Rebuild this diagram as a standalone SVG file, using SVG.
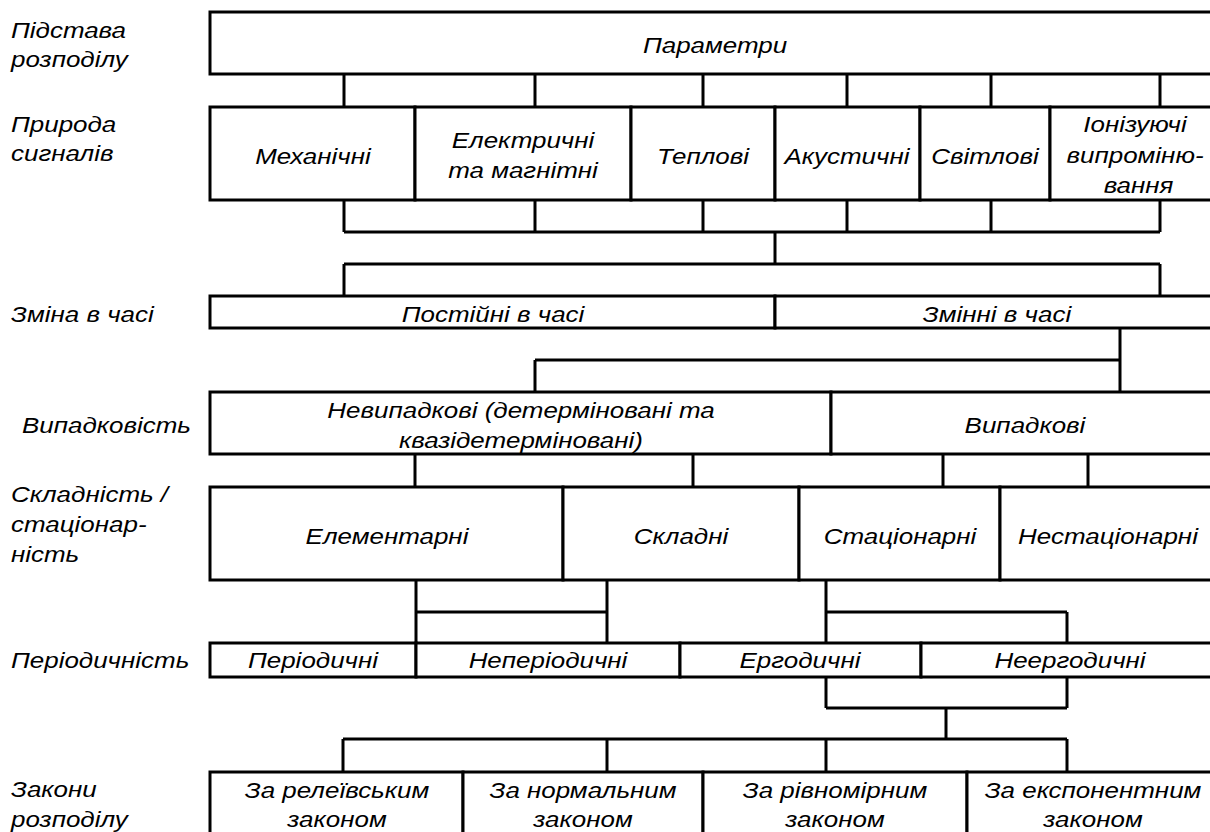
<svg xmlns="http://www.w3.org/2000/svg" width="1210" height="832" viewBox="0 0 1210 832">
<style>
  .box{fill:#fff;stroke:#000;stroke-width:3}
  .ln{fill:none;stroke:#000;stroke-width:3}
  text{font-family:"Liberation Sans",Arial,sans-serif;font-style:italic;font-size:22px;fill:#000}
  .c{text-anchor:middle}
</style>
<rect width="1210" height="832" fill="#fff"/>

<!-- level captions on the left -->
<g id="captions">
  <text transform="matrix(1.18 0 0 1 11 38)"><tspan x="0" y="0">Підстава</tspan><tspan x="0" y="29">розподілу</tspan></text>
  <text transform="matrix(1.18 0 0 1 11 132)"><tspan x="0" y="0">Природа</tspan><tspan x="0" y="29">сигналів</tspan></text>
  <text transform="matrix(1.18 0 0 1 11 322)">Зміна в часі</text>
  <text transform="matrix(1.18 0 0 1 22 433)">Випадковість</text>
  <text transform="matrix(1.18 0 0 1 11 502)"><tspan x="0" y="0">Складність /</tspan><tspan x="0" y="30">стаціонар-</tspan><tspan x="0" y="60">ність</tspan></text>
  <text transform="matrix(1.18 0 0 1 11 668)">Періодичність</text>
  <text transform="matrix(1.18 0 0 1 11 797)"><tspan x="0" y="0">Закони</tspan><tspan x="0" y="30">розподілу</tspan></text>
</g>

<!-- connectors between levels -->
<g id="connectors" class="ln">
  <path d="M344 74V107M535 74V107M703 74V107M847 74V107M991 74V107M1160 74V107"/>
  <path d="M344 200V232M535 200V232M703 200V232M847 200V232M991 200V232M1160 200V232M344 232H1160"/>
  <path d="M775 232V264M344 264H1160M344 264V296M1160 264V296"/>
  <path d="M1120 328V392M535 360H1120M535 360V392"/>
  <path d="M415 454V487M693 454V487M943 454V487M1088 454V487"/>
  <path d="M416 580V643M607 580V643M416 612H607"/>
  <path d="M826 580V643M826 612H1067M1067 612V643"/>
  <path d="M826 677V708M1067 677V708M826 708H1067M946 708V739"/>
  <path d="M343 739H1067M343 739V772M607 739V772M826 739V772M1067 739V772"/>
</g>

<!-- level 1 -->
<g id="n-params"><rect class="box" x="210" y="12" width="1015" height="62"/>
  <text class="c" transform="matrix(1.18 0 0 1 715 53)">Параметри</text></g>

<!-- level 2: nature of signals -->
<g id="n-mech"><rect class="box" x="210" y="107" width="205" height="93"/>
  <text class="c" transform="matrix(1.18 0 0 1 313 164)">Механічні</text></g>
<g id="n-elec"><rect class="box" x="415" y="107" width="216" height="93"/>
  <text class="c" transform="matrix(1.18 0 0 1 523 148)"><tspan x="0" y="0">Електричні</tspan><tspan x="0" y="30">та магнітні</tspan></text></g>
<g id="n-therm"><rect class="box" x="631" y="107" width="144" height="93"/>
  <text class="c" transform="matrix(1.18 0 0 1 703 164)">Теплові</text></g>
<g id="n-acoust"><rect class="box" x="775" y="107" width="145" height="93"/>
  <text class="c" transform="matrix(1.18 0 0 1 847 164)">Акустичні</text></g>
<g id="n-light"><rect class="box" x="920" y="107" width="130" height="93"/>
  <text class="c" transform="matrix(1.18 0 0 1 985 164)">Світлові</text></g>
<g id="n-ion"><rect class="box" x="1050" y="107" width="175" height="93"/>
  <text class="c" transform="matrix(1.18 0 0 1 1135 132)"><tspan x="0" y="0">Іонізуючі</tspan><tspan x="0" y="31">випроміню-</tspan><tspan x="3" y="61">вання</tspan></text></g>

<!-- level 3: change in time -->
<g id="n-const"><rect class="box" x="210" y="296" width="565" height="32"/>
  <text class="c" transform="matrix(1.18 0 0 1 493 322)">Постійні в часі</text></g>
<g id="n-var"><rect class="box" x="775" y="296" width="450" height="32"/>
  <text class="c" transform="matrix(1.18 0 0 1 997 322)">Змінні в часі</text></g>

<!-- level 4: randomness -->
<g id="n-determ"><rect class="box" x="210" y="392" width="621" height="62"/>
  <text class="c" transform="matrix(1.18 0 0 1 521 418)"><tspan x="0" y="0">Невипадкові (детерміновані та</tspan><tspan x="0" y="30">квазідетерміновані)</tspan></text></g>
<g id="n-random"><rect class="box" x="831" y="392" width="394" height="62"/>
  <text class="c" transform="matrix(1.18 0 0 1 1025 433)">Випадкові</text></g>

<!-- level 5: complexity / stationarity -->
<g id="n-elem"><rect class="box" x="210" y="487" width="353" height="93"/>
  <text class="c" transform="matrix(1.18 0 0 1 387 544)">Елементарні</text></g>
<g id="n-complex"><rect class="box" x="563" y="487" width="236" height="93"/>
  <text class="c" transform="matrix(1.18 0 0 1 681 544)">Складні</text></g>
<g id="n-stat"><rect class="box" x="799" y="487" width="201" height="93"/>
  <text class="c" transform="matrix(1.18 0 0 1 900 544)">Стаціонарні</text></g>
<g id="n-nonstat"><rect class="box" x="1000" y="487" width="225" height="93"/>
  <text class="c" transform="matrix(1.18 0 0 1 1108 544)">Нестаціонарні</text></g>

<!-- level 6: periodicity -->
<g id="n-period"><rect class="box" x="210" y="643" width="206" height="34"/>
  <text class="c" transform="matrix(1.18 0 0 1 313 668)">Періодичні</text></g>
<g id="n-aperiod"><rect class="box" x="416" y="643" width="264" height="34"/>
  <text class="c" transform="matrix(1.18 0 0 1 548 668)">Неперіодичні</text></g>
<g id="n-ergod"><rect class="box" x="680" y="643" width="241" height="34"/>
  <text class="c" transform="matrix(1.18 0 0 1 800 668)">Ергодичні</text></g>
<g id="n-nonergod"><rect class="box" x="921" y="643" width="304" height="34"/>
  <text class="c" transform="matrix(1.18 0 0 1 1070 668)">Неергодичні</text></g>

<!-- level 7: distribution laws -->
<g id="n-rayleigh"><rect class="box" x="210" y="772" width="253" height="80"/>
  <text class="c" transform="matrix(1.18 0 0 1 337 798)"><tspan x="0" y="0">За релеївським</tspan><tspan x="0" y="29">законом</tspan></text></g>
<g id="n-normal"><rect class="box" x="463" y="772" width="240" height="80"/>
  <text class="c" transform="matrix(1.18 0 0 1 583 798)"><tspan x="0" y="0">За нормальним</tspan><tspan x="0" y="29">законом</tspan></text></g>
<g id="n-uniform"><rect class="box" x="703" y="772" width="264" height="80"/>
  <text class="c" transform="matrix(1.18 0 0 1 835 798)"><tspan x="0" y="0">За рівномірним</tspan><tspan x="0" y="29">законом</tspan></text></g>
<g id="n-expon"><rect class="box" x="967" y="772" width="258" height="80"/>
  <text class="c" transform="matrix(1.18 0 0 1 1093 798)"><tspan x="0" y="0">За експонентним</tspan><tspan x="0" y="29">законом</tspan></text></g>
</svg>
